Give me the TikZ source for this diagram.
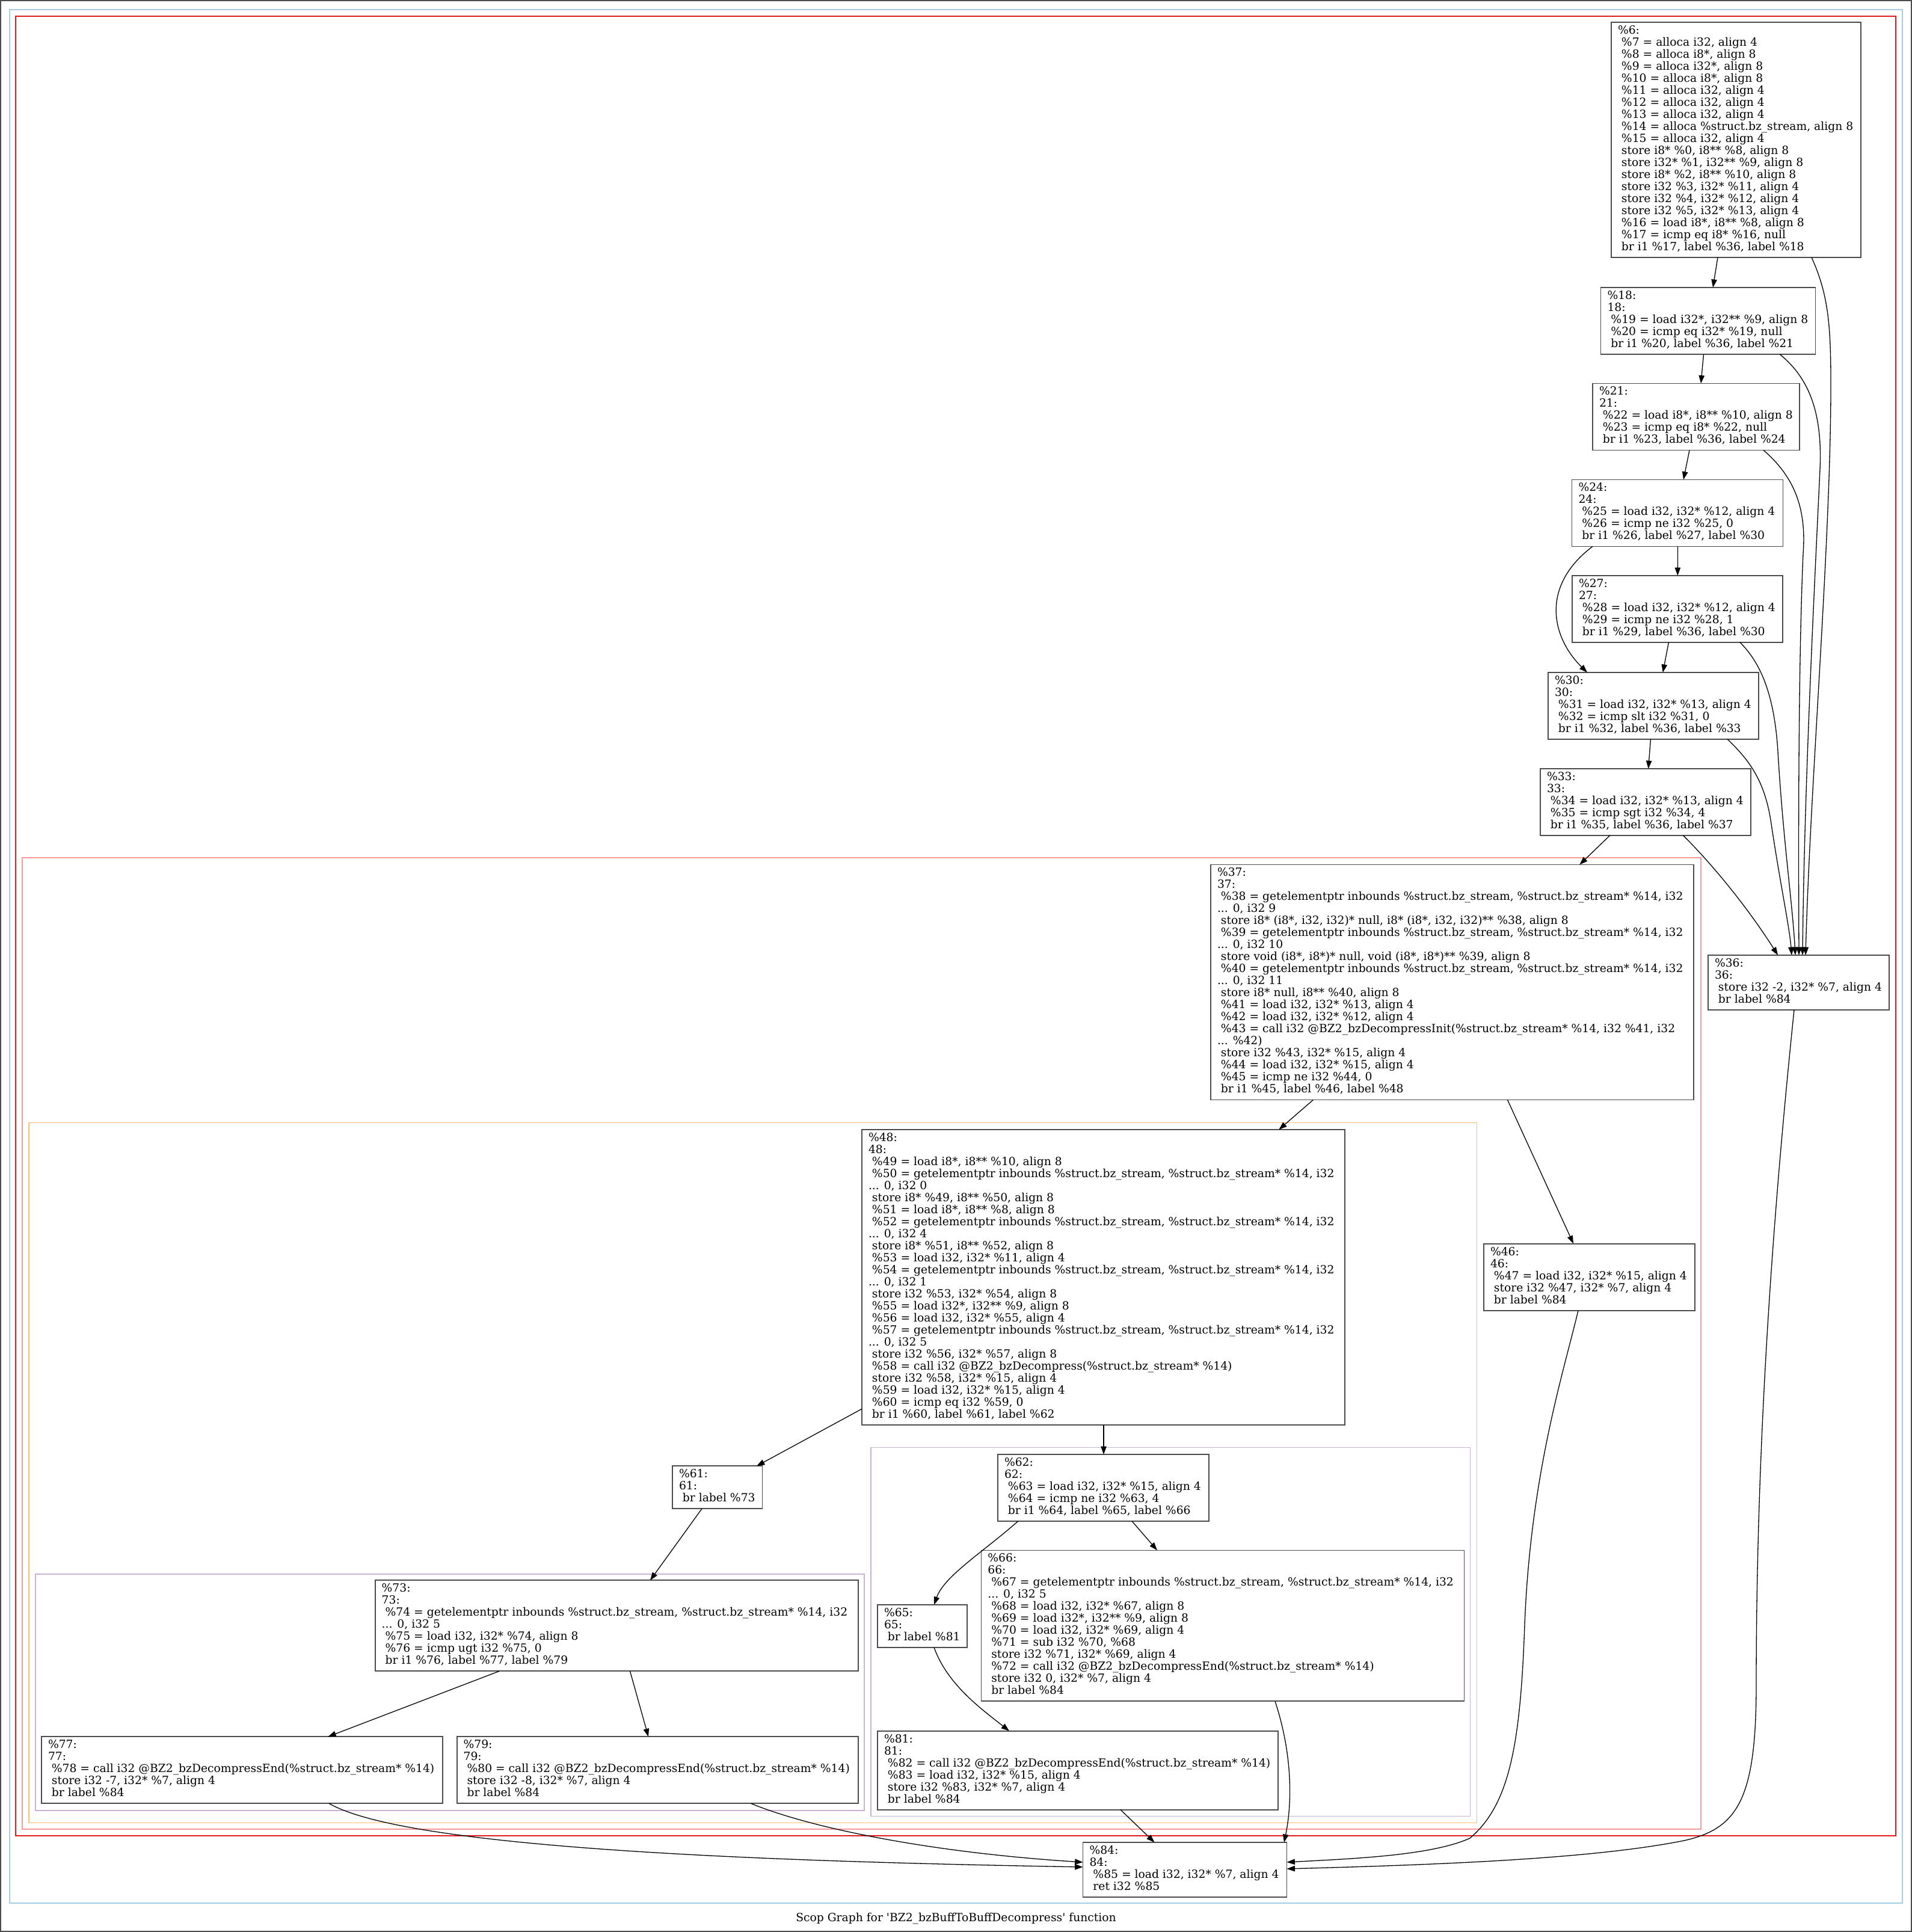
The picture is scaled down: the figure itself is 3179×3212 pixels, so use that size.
\documentclass[tikz,border=0pt]{standalone}
\usepackage{fontspec}
\setmainfont{DejaVu Serif}
\usetikzlibrary{arrows.meta}
\definecolor{scopA}{HTML}{A6CEE3}
\definecolor{scopB}{HTML}{E31A1C}
\definecolor{scopC}{HTML}{FB9A99}
\definecolor{scopD}{HTML}{FDBF6F}
\definecolor{scopE}{HTML}{CAB2D6}
\newcommand{\ind}{\hspace*{0.318em}}
\newcommand{\hdr}[2]{\makebox[#1pt][l]{#2}}
\tikzset{
	blk/.style={draw=black!70, line width=1.8pt, anchor=north west, outer sep=0pt,
		align=left, inner xsep=11pt, inner ysep=5.5pt,
		font=\fontsize{18.72pt}{20pt}\selectfont,
		execute at begin node=\strut, execute at end node=\strut},
	clu/.style={line width=1.5pt},
	flow/.style={line width=1.3pt, -{Triangle[length=13.4pt,width=9.4pt]}}
}

\begin{document}
\begin{tikzpicture}[x=1pt,y=-1pt]

	\useasboundingbox (0,0) rectangle (3179,3212);
	\draw[black!70, line width=2pt] (1,1) rectangle (3178,3211);

	\draw[clu, scopA] (16,16) rectangle (3163,3164);
	\draw[clu, scopB] (26,27) rectangle (3152,3052);
	\draw[clu, scopC] (37,1426) rectangle (2828,3041);
	\draw[clu, scopD] (48,1866.5) rectangle (2455.5,3030.5);
	\draw[clu, scopE] (59,2617) rectangle (1437,3010);
	\draw[clu, scopE] (1448,2406.6) rectangle (2444.5,3019.4);

	\node[blk] (b6) at (2679,37) {\hdr{393}{\%6:}\\
		\ind\%7 = alloca i32, align 4\\
		\ind\%8 = alloca i8*, align 8\\
		\ind\%9 = alloca i32*, align 8\\
		\ind\%10 = alloca i8*, align 8\\
		\ind\%11 = alloca i32, align 4\\
		\ind\%12 = alloca i32, align 4\\
		\ind\%13 = alloca i32, align 4\\
		\ind\%14 = alloca \%struct.bz\_stream, align 8\\
		\ind\%15 = alloca i32, align 4\\
		\ind store i8* \%0, i8** \%8, align 8\\
		\ind store i32* \%1, i32** \%9, align 8\\
		\ind store i8* \%2, i8** \%10, align 8\\
		\ind store i32 \%3, i32* \%11, align 4\\
		\ind store i32 \%4, i32* \%12, align 4\\
		\ind store i32 \%5, i32* \%13, align 4\\
		\ind\%16 = load i8*, i8** \%8, align 8\\
		\ind\%17 = icmp eq i8* \%16, null\\
		\ind br i1 \%17, label \%36, label \%18};

	\node[blk] (b18) at (2661.5,478) {\hdr{335}{\%18:}\\ 18:\\
		\ind\%19 = load i32*, i32** \%9, align 8\\
		\ind\%20 = icmp eq i32* \%19, null\\
		\ind br i1 \%20, label \%36, label \%21};

	\node[blk] (b21) at (2648,637.5) {\hdr{322}{\%21:}\\ 21:\\
		\ind\%22 = load i8*, i8** \%10, align 8\\
		\ind\%23 = icmp eq i8* \%22, null\\
		\ind br i1 \%23, label \%36, label \%24};

	\node[blk] (b24) at (2613.5,797.5) {\hdr{329}{\%24:}\\ 24:\\
		\ind\%25 = load i32, i32* \%12, align 4\\
		\ind\%26 = icmp ne i32 \%25, 0\\
		\ind br i1 \%26, label \%27, label \%30};

	\node[blk] (b27) at (2614,957) {\hdr{328}{\%27:}\\ 27:\\
		\ind\%28 = load i32, i32* \%12, align 4\\
		\ind\%29 = icmp ne i32 \%28, 1\\
		\ind br i1 \%29, label \%36, label \%30};

	\node[blk] (b30) at (2574,1118) {\hdr{328}{\%30:}\\ 30:\\
		\ind\%31 = load i32, i32* \%13, align 4\\
		\ind\%32 = icmp slt i32 \%31, 0\\
		\ind br i1 \%32, label \%36, label \%33};

	\node[blk] (b33) at (2561,1278) {\hdr{328}{\%33:}\\ 33:\\
		\ind\%34 = load i32, i32* \%13, align 4\\
		\ind\%35 = icmp sgt i32 \%34, 4\\
		\ind br i1 \%35, label \%36, label \%37};

	\node[blk] (b36) at (2840,1588) {\hdr{279}{\%36:}\\ 36:\\
		\ind store i32 -2, i32* \%7, align 4\\
		\ind br label \%84};

	\node[blk] (b37) at (2013,1437.5) {\hdr{781}{\%37:}\\ 37:\\
		\ind\%38 = getelementptr inbounds \%struct.bz\_stream, \%struct.bz\_stream* \%14, i32\\
		... 0, i32 9\\
		\ind store i8* (i8*, i32, i32)* null, i8* (i8*, i32, i32)** \%38, align 8\\
		\ind\%39 = getelementptr inbounds \%struct.bz\_stream, \%struct.bz\_stream* \%14, i32\\
		... 0, i32 10\\
		\ind store void (i8*, i8*)* null, void (i8*, i8*)** \%39, align 8\\
		\ind\%40 = getelementptr inbounds \%struct.bz\_stream, \%struct.bz\_stream* \%14, i32\\
		... 0, i32 11\\
		\ind store i8* null, i8** \%40, align 8\\
		\ind\%41 = load i32, i32* \%13, align 4\\
		\ind\%42 = load i32, i32* \%12, align 4\\
		\ind\%43 = call i32 @BZ2\_bzDecompressInit(\%struct.bz\_stream* \%14, i32 \%41, i32\\
		... \%42)\\
		\ind store i32 \%43, i32* \%15, align 4\\
		\ind\%44 = load i32, i32* \%15, align 4\\
		\ind\%45 = icmp ne i32 \%44, 0\\
		\ind br i1 \%45, label \%46, label \%48};

	\node[blk] (b46) at (2467,2067.7) {\hdr{329}{\%46:}\\ 46:\\
		\ind\%47 = load i32, i32* \%15, align 4\\
		\ind store i32 \%47, i32* \%7, align 4\\
		\ind br label \%84};

	\node[blk] (b48) at (1433,1878) {\hdr{781}{\%48:}\\ 48:\\
		\ind\%49 = load i8*, i8** \%10, align 8\\
		\ind\%50 = getelementptr inbounds \%struct.bz\_stream, \%struct.bz\_stream* \%14, i32\\
		... 0, i32 0\\
		\ind store i8* \%49, i8** \%50, align 8\\
		\ind\%51 = load i8*, i8** \%8, align 8\\
		\ind\%52 = getelementptr inbounds \%struct.bz\_stream, \%struct.bz\_stream* \%14, i32\\
		... 0, i32 4\\
		\ind store i8* \%51, i8** \%52, align 8\\
		\ind\%53 = load i32, i32* \%11, align 4\\
		\ind\%54 = getelementptr inbounds \%struct.bz\_stream, \%struct.bz\_stream* \%14, i32\\
		... 0, i32 1\\
		\ind store i32 \%53, i32* \%54, align 8\\
		\ind\%55 = load i32*, i32** \%9, align 8\\
		\ind\%56 = load i32, i32* \%55, align 4\\
		\ind\%57 = getelementptr inbounds \%struct.bz\_stream, \%struct.bz\_stream* \%14, i32\\
		... 0, i32 5\\
		\ind store i32 \%56, i32* \%57, align 8\\
		\ind\%58 = call i32 @BZ2\_bzDecompress(\%struct.bz\_stream* \%14)\\
		\ind store i32 \%58, i32* \%15, align 4\\
		\ind\%59 = load i32, i32* \%15, align 4\\
		\ind\%60 = icmp eq i32 \%59, 0\\
		\ind br i1 \%60, label \%61, label \%62};

	\node[blk] (b61) at (1118,2437.3) {\hdr{127.5}{\%61:}\\ 61:\\
		\ind br label \%73};

	\node[blk] (b62) at (1659,2418) {\hdr{329}{\%62:}\\ 62:\\
		\ind\%63 = load i32, i32* \%15, align 4\\
		\ind\%64 = icmp ne i32 \%63, 4\\
		\ind br i1 \%64, label \%65, label \%66};

	\node[blk] (b65) at (1459,2668) {\hdr{126.6}{\%65:}\\ 65:\\
		\ind br label \%81};

	\node[blk] (b66) at (1631.4,2577.4) {\hdr{781}{\%66:}\\ 66:\\
		\ind\%67 = getelementptr inbounds \%struct.bz\_stream, \%struct.bz\_stream* \%14, i32\\
		... 0, i32 5\\
		\ind\%68 = load i32, i32* \%67, align 8\\
		\ind\%69 = load i32*, i32** \%9, align 8\\
		\ind\%70 = load i32, i32* \%69, align 4\\
		\ind\%71 = sub i32 \%70, \%68\\
		\ind store i32 \%71, i32* \%69, align 4\\
		\ind\%72 = call i32 @BZ2\_bzDecompressEnd(\%struct.bz\_stream* \%14)\\
		\ind store i32 0, i32* \%7, align 4\\
		\ind br label \%84};

	\node[blk] (b81) at (1459,2877.7) {\hdr{644}{\%81:}\\ 81:\\
		\ind\%82 = call i32 @BZ2\_bzDecompressEnd(\%struct.bz\_stream* \%14)\\
		\ind\%83 = load i32, i32* \%15, align 4\\
		\ind store i32 \%83, i32* \%7, align 4\\
		\ind br label \%84};

	\node[blk] (b73) at (623.7,2627.3) {\hdr{781}{\%73:}\\ 73:\\
		\ind\%74 = getelementptr inbounds \%struct.bz\_stream, \%struct.bz\_stream* \%14, i32\\
		... 0, i32 5\\
		\ind\%75 = load i32, i32* \%74, align 8\\
		\ind\%76 = icmp ugt i32 \%75, 0\\
		\ind br i1 \%76, label \%77, label \%79};

	\node[blk] (b77) at (69,2887.3) {\hdr{645}{\%77:}\\ 77:\\
		\ind\%78 = call i32 @BZ2\_bzDecompressEnd(\%struct.bz\_stream* \%14)\\
		\ind store i32 -7, i32* \%7, align 4\\
		\ind br label \%84};

	\node[blk] (b79) at (759.6,2887.3) {\hdr{645}{\%79:}\\ 79:\\
		\ind\%80 = call i32 @BZ2\_bzDecompressEnd(\%struct.bz\_stream* \%14)\\
		\ind store i32 -8, i32* \%7, align 4\\
		\ind br label \%84};

	\node[blk] (b84) at (1800.5,3063) {\hdr{317}{\%84:}\\ 84:\\
		\ind\%85 = load i32, i32* \%7, align 4\\
		\ind ret i32 \%85};

	\node[font=\fontsize{18.72pt}{20pt}\selectfont] (cap) at (1589.5,3190)
		{Scop Graph for \textquotesingle BZ2\_bzBuffToBuffDecompress\textquotesingle{} function};

	\draw[flow] ([xshift=177]b6.south west) -- ([xshift=186.5]b18.north west);
	\draw[flow] ([xshift=333]b6.south west) .. controls (3040,490) and (3044,540) .. (3044,640)
		.. controls (3044,900) and (3010,1300) .. ([xshift=162]b36.north west);
	\draw[flow] ([xshift=171]b18.south west) -- ([xshift=180]b21.north west);
	\draw[flow] ([xshift=297.5]b18.south west) .. controls (3010,630) and (3030,690) .. (3026,780)
		.. controls (3018,950) and (3000,1300) .. ([xshift=157]b36.north west);
	\draw[flow] ([xshift=161]b21.south west) -- ([xshift=185.5]b24.north west);
	\draw[flow] ([xshift=284]b21.south west) .. controls (2980,790) and (3004,840) .. (2998,920)
		.. controls (2990,1100) and (2990,1400) .. ([xshift=151]b36.north west);
	\draw[flow] ([xshift=176]b24.south west) -- ([xshift=175.3]b27.north west);
	\draw[flow] ([xshift=34.5]b24.south west) .. controls (2560,975) and (2580,1060) .. ([xshift=65]b30.north west);
	\draw[flow] ([xshift=160.4]b27.south west) -- ([xshift=190.7]b30.north west);
	\draw[flow] ([xshift=279]b27.south west) .. controls (2925,1100) and (2950,1150) .. (2956,1250)
		.. controls (2965,1400) and (2980,1500) .. ([xshift=145]b36.north west);
	\draw[flow] ([xshift=170.4]b30.south west) -- ([xshift=179.6]b33.north west);
	\draw[flow] ([xshift=298]b30.south west) .. controls (2910,1265) and (2935,1300) .. (2945,1370)
		.. controls (2960,1470) and (2975,1540) .. ([xshift=139]b36.north west);
	\draw[flow] ([xshift=115.7]b33.south west) -- ([xshift=613.3]b37.north west);
	\draw[flow] ([xshift=237.5]b33.south west) .. controls (2840,1430) and (2900,1500) .. ([xshift=116]b36.north west);
	\draw[flow] ([xshift=143]b36.south west) .. controls (2955,1950) and (2920,2350) .. (2920,2800)
		.. controls (2920,2990) and (2890,3040) .. (2800,3060)
		.. controls (2650,3090) and (2400,3100) .. ([yshift=1.5]b84.east);
	\draw[flow] ([xshift=170.5]b37.south west) -- ([xshift=693.3]b48.north west);
	\draw[flow] ([xshift=493.4]b37.south west) -- ([xshift=149]b46.north west);
	\draw[flow] ([xshift=157]b46.south west) .. controls (2600,2280) and (2545,2450) .. (2535,2700)
		.. controls (2528,2900) and (2510,3000) .. (2444,3056)
		.. controls (2380,3085) and (2250,3090) .. ([yshift=12.5]b84.east);
	\draw[flow] ([yshift=26.6]b48.south west) -- ([xshift=140]b61.north west);
	\draw[flow] ([xshift=402]b48.south west) -- ([xshift=176]b62.north west);
	\draw[flow] ([xshift=49]b61.south west) -- ([xshift=457.3]b73.north west);
	\draw[flow] ([xshift=206.7]b73.south west) -- ([xshift=476.3]b77.north west);
	\draw[flow] ([xshift=423.8]b73.south west) -- ([xshift=318.4]b79.north west);
	\draw[flow] ([xshift=478]b77.south west) .. controls (680,3075) and (1300,3095) .. ([yshift=4.5]b84.west);
	\draw[flow] ([xshift=488.8]b79.south west) .. controls (1350,3040) and (1550,3080) .. ([yshift=12.5]b84.west);
	\draw[flow] ([xshift=33.7]b62.south west) .. controls (1635,2580) and (1570,2620) .. ([xshift=94]b65.north west);
	\draw[flow] ([xshift=223]b62.south west) -- ([xshift=292.6]b66.north west);
	\draw[flow] ([xshift=94]b65.south west) .. controls (1575,2800) and (1630,2840) .. ([xshift=219]b81.north west);
	\draw[flow] ([xshift=488.6]b66.south west) .. controls (2150,2920) and (2148,3000) .. ([xshift=334.5]b84.north west);
	\draw[flow] ([xshift=404]b81.south west) -- ([xshift=119]b84.north west);

\end{tikzpicture}
\end{document}
